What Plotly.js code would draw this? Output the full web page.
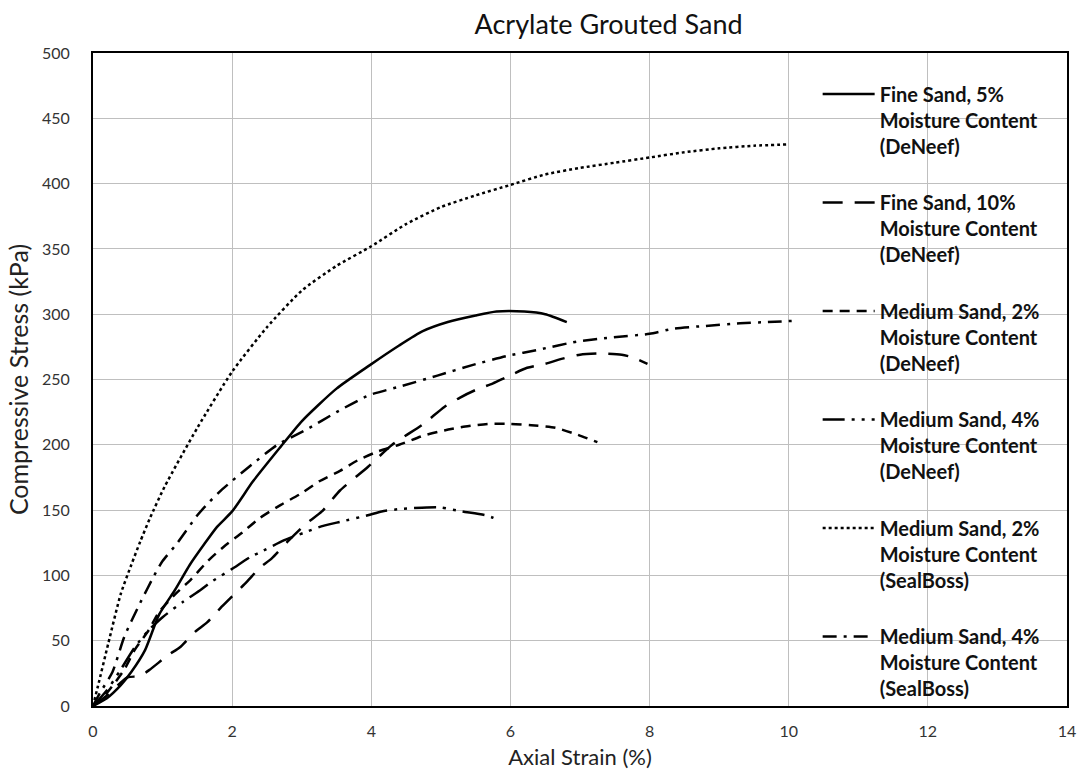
<!DOCTYPE html>
<html>
<head>
<meta charset="utf-8">
<script src="https://cdn.plot.ly/plotly-3.0.1.min.js"></script>
<style>html,body{margin:0;padding:0;background:#fff;}#chart{width:1081px;height:774px;}</style>
</head>
<body>
<div id="chart"></div>
<script>
// Fine Sand, 5% Moisture Content (DeNeef)
const fine5X = [0,0.2,0.4,0.55,0.75,0.95,1.18,1.39,1.6,1.78,2.0,2.3,2.69,3.0,3.5,3.98,4.4,4.74,5.1,5.5,5.8,6.2,6.5,6.81];
const fine5Y = [0,6,16,26,43,70,89,108,124,137,149,172,198,218,243,261,276,287,294,299,302,302,300,294];
// Fine Sand, 10% Moisture Content (DeNeef)
const fine10X = [0,0.2,0.4,0.5,0.68,0.82,1.08,1.25,1.47,1.64,1.85,2.0,2.21,2.4,2.57,2.8,3.05,3.29,3.55,3.95,4.3,4.75,5.05,5.27,5.5,5.75,5.95,6.24,6.5,6.75,7.0,7.3,7.6,7.75,7.97];
const fine10Y = [0,8,18,22,23,28,39,45,57,64,76,84,95,106,113,126,139,149,165,183,200,216,229,236,242,247,252,259,262,266,269,270,269,267,262];
// Medium Sand, 2% Moisture Content (DeNeef)
const med2dX = [0,0.2,0.45,0.6,0.8,0.95,1.19,1.41,1.65,1.88,2.15,2.4,2.7,3.0,3.25,3.55,3.8,4.1,4.4,4.75,5.05,5.35,5.7,6.0,6.3,6.65,6.95,7.25];
const med2dY = [0,10,28,43,58,72,86,97,111,122,133,144,154,163,172,180,188,195,200,207,211,214,216,216,215,213,208,202];
// Medium Sand, 4% Moisture Content (DeNeef)
const med4dX = [0,0.2,0.4,0.6,0.8,1.0,1.3,1.55,1.7,2.0,2.26,2.45,2.75,3.05,3.25,3.55,3.95,4.15,4.45,4.8,5.0,5.3,5.65,5.85];
const med4dY = [0,12,28,45,58,68,80,89,95,105,114,119,127,133,137,141,146,149,151,152,152,149,146,142];
// Medium Sand, 2% Moisture Content (SealBoss)
const med2sX = [0,0.07,0.22,0.4,0.55,0.68,0.82,1.03,1.5,2.0,2.5,3.0,3.5,4.0,4.5,5.0,5.5,6.0,6.5,7.0,7.5,8.0,8.5,9.0,9.5,10.0];
const med2sY = [0,15,48,86,108,126,144,168,213,256,290,318,337,352,369,382,391,399,407,412,416,420,424,427,429,430];
// Medium Sand, 4% Moisture Content (SealBoss)
const med4sX = [0,0.1,0.28,0.45,0.66,0.9,1.0,1.2,1.5,1.65,1.86,2.24,2.65,3.08,3.5,3.97,4.44,4.95,5.45,5.95,6.42,6.95,7.43,8.0,8.35,8.8,9.3,9.7,10.1];
const med4sY = [0,10,26,53,77,102,111,124,146,155,166,183,200,212,225,238,245,253,261,268,273,279,282,285,289,291,293,294,295];

const names = [
  'Fine Sand, 5%<br>Moisture Content<br>(DeNeef)',
  'Fine Sand, 10%<br>Moisture Content<br>(DeNeef)',
  'Medium Sand, 2%<br>Moisture Content<br>(DeNeef)',
  'Medium Sand, 4%<br>Moisture Content<br>(DeNeef)',
  'Medium Sand, 2%<br>Moisture Content<br>(SealBoss)',
  'Medium Sand, 4%<br>Moisture Content<br>(SealBoss)'
];
const xs = [fine5X, fine10X, med2dX, med4dX, med2sX, med4sX];
const ys = [fine5Y, fine10Y, med2dY, med4dY, med2sY, med4sY];
const dashes = ['solid', '20px,12px', '10px,7px', '22px,7px,3px,7px,3px,7px', '3px,3px', '14px,7px,3px,7px'];

const traces = xs.map((x, i) => ({
  x: x, y: ys[i], type: 'scatter', mode: 'lines', name: names[i],
  legendgroup: 'g' + i,
  line: {color: '#000', width: 2.5, dash: dashes[i], shape: 'spline', smoothing: 0.6}
}));

const layout = {
  width: 1081, height: 774,
  margin: {l: 93, r: 14, t: 53, b: 68},
  paper_bgcolor: '#fff', plot_bgcolor: '#fff',
  font: {family: 'Lato, sans-serif', color: '#222'},
  title: {text: 'Acrylate Grouted Sand', x: 0.563, xanchor: 'center', xref: 'container', y: 0.968, yanchor: 'middle', font: {size: 27, color: '#111', family: 'Lato, sans-serif'}},
  xaxis: {
    range: [0, 14], dtick: 2, tick0: 0, showgrid: true, gridcolor: '#bfbfbf', gridwidth: 1,
    showline: true, linecolor: '#000', linewidth: 2, mirror: true, zeroline: false,
    ticks: '', tickfont: {size: 16, color: '#333'}, ticklabelstandoff: 10,
    title: {text: 'Axial Strain (%)', font: {size: 22, color: '#222'}, standoff: 10}
  },
  yaxis: {
    range: [0, 500], dtick: 50, tick0: 0, showgrid: true, gridcolor: '#bfbfbf', gridwidth: 1,
    showline: true, linecolor: '#000', linewidth: 2, mirror: true, zeroline: false,
    ticks: '', tickfont: {size: 16, color: '#333'}, ticklabelstandoff: 18,
    automargin: true,
    title: {text: 'Compressive Stress (kPa)', font: {size: 25, color: '#222'}, standoff: 6}
  },
  showlegend: true,
  legend: {
    x: 0.744, y: 0.967, xanchor: 'left', yanchor: 'top',
    bgcolor: 'rgba(0,0,0,0)', borderwidth: 0,
    font: {size: 20, color: '#111', family: 'Lato, sans-serif', weight: 'bold'},
    itemwidth: 52, valign: 'top', tracegroupgap: 27.5, traceorder: 'grouped'
  }
};

Plotly.newPlot('chart', traces, layout, {displayModeBar: false, staticPlot: true});
</script>
</body>
</html>
